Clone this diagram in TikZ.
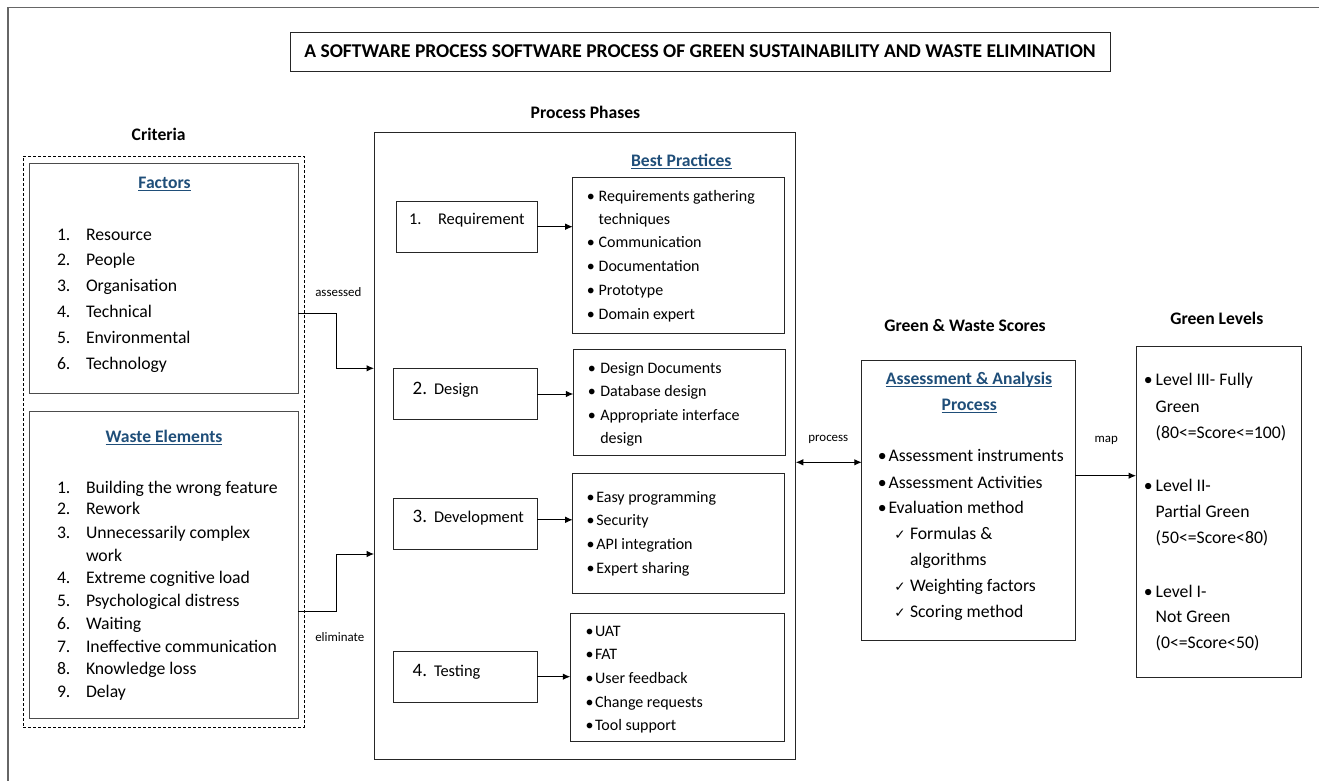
\documentclass[tikz,border=0pt]{standalone}
\usepackage{fontspec}
\setmainfont{Carlito}
\newfontfamily\dejavu{DejaVu Sans}
\usetikzlibrary{arrows.meta}
\definecolor{headblue}{RGB}{31,78,121}
\newcommand\fList{\fontsize{17.7}{20}\selectfont}
\newcommand\fBP{\fontsize{16}{18}\selectfont}
\newcommand\fPh{\fontsize{16.4}{18}\selectfont}
\newcommand\fHead{\fontsize{17.6}{20}\selectfont\bfseries}
\newcommand\fSmall{\fontsize{12.9}{14}\selectfont}
\newcommand\fTitle{\fontsize{19.5}{22}\selectfont\bfseries}
\newcommand\fNum{\fontsize{19}{20}\selectfont}
\newcommand\ulhead[1]{\setbox0\hbox{#1}\rlap{\color{headblue}\rule[-2.8pt]{\wd0}{1.3pt}}\box0}
\tikzset{
  box/.style={draw=black!85, line width=0.9pt, inner sep=0pt, outer sep=0pt},
  sbox/.style={draw=black!70, line width=1.3pt, inner sep=0pt, outer sep=0pt},
  t/.style={inner sep=0pt, outer sep=0pt, anchor=base west},
  tc/.style={inner sep=0pt, outer sep=0pt, anchor=base},
  arr/.style={-{Latex[length=7.5pt,width=6.5pt]}, line width=1pt},
  darr/.style={{Latex[length=7.5pt,width=6.5pt]}-{Latex[length=7.5pt,width=6.5pt]}, line width=1pt},
}
\begin{document}
\begin{tikzpicture}[x=1pt,y=-1pt]
\useasboundingbox (0,0) rectangle (1319,781);
% outer frame
\draw[black!60, line width=1.5pt] (8,781) -- (8,7.5) -- (1319,7.5);

% title
\node[box, minimum width=820pt, minimum height=39pt, font=\fTitle] (title) at (700,51.5)
  {A SOFTWARE PROCESS SOFTWARE PROCESS OF GREEN SUSTAINABILITY AND WASTE ELIMINATION};

% ---------------- Criteria
\node[tc, font=\fHead] (crit) at (158.7,140.5) {Criteria};
\node[draw=black, dash pattern=on 3pt off 2pt, line width=0.8pt, inner sep=0pt,
      minimum width=281pt, minimum height=571pt] (critbox) at (163.7,441.5) {};
\node[sbox, minimum width=268.6pt, minimum height=230pt] (fac) at (164,278.7) {};
\node[sbox, minimum width=268.6pt, minimum height=306.6pt] (waste) at (164,565) {};

\node[tc, font=\fHead, text=headblue] (factt) at (164.5,188) {\ulhead{Factors}};
\foreach \n/\s/\y in {1/Resource/235, 2/People/260, 3/Organisation/286,
                      4/Technical/312, 5/Environmental/338, 6/Technology/364}{
  \node[t, font=\fList] (fn\n) at (57,\y+5.8) {\n.};
  \node[t, font=\fList] (ft\n) at (86,\y+5.8) {\s};
}

\node[tc, font=\fHead, text=headblue] (wastet) at (164,442) {\ulhead{Waste Elements}};
\foreach \n/\s/\y in {1/Building the wrong feature/487.7, 2/Rework/509,
                      3/Unnecessarily complex/533, 4/Extreme cognitive load/578,
                      5/Psychological distress/601, 6/Waiting/624,
                      7/Ineffective communication/646.7, 8/Knowledge loss/669, 9/Delay/692}{
  \node[t, font=\fList] (wn\n) at (57,\y+5.8) {\n.};
  \node[t, font=\fList] (wt\n) at (86,\y+5.8) {\s};
}
\node[t, font=\fList] (wt3b) at (86,561.5) {work};

% ---------------- Process phases
\node[tc, font=\fHead] (pphead) at (585.5,118.5) {Process Phases};
\node[box, minimum width=421.7pt, minimum height=626.7pt] (proc) at (584.9,445.6) {};
\node[tc, font=\fHead, text=headblue] (bphead) at (681.3,166) {\ulhead{Best Practices}};

\node[box, minimum width=140.7pt, minimum height=50.7pt] (req) at (466.7,226.7) {};
\node[box, minimum width=143.7pt, minimum height=50.6pt] (des) at (465.2,394) {};
\node[box, minimum width=143.7pt, minimum height=50.3pt] (dev) at (465.2,523.8) {};
\node[box, minimum width=143.7pt, minimum height=50.7pt] (tst) at (465.2,676.7) {};

\node[t, font=\fPh] (reqn) at (409,224.3) {1.};
\node[t, font=\fPh] (reqt) at (438,224.3) {Requirement};
\node[t, font=\fNum] (desn) at (412.7,394.5) {2.};
\node[t, font=\fPh] (dest) at (434,394.5) {Design};
\node[t, font=\fNum] (devn) at (412.7,522.8) {3.};
\node[t, font=\fPh] (devt) at (434,522.8) {Development};
\node[t, font=\fNum] (tstn) at (412.7,676.5) {4.};
\node[t, font=\fPh] (tstt) at (434,676.5) {Testing};

\node[box, minimum width=211.6pt, minimum height=155.7pt] (bp1) at (678.5,255.2) {};
\node[box, minimum width=212.4pt, minimum height=105.3pt] (bp2) at (679.5,402.4) {};
\node[box, minimum width=211.6pt, minimum height=120pt] (bp3) at (678.5,533.3) {};
\node[box, minimum width=214pt, minimum height=128.7pt] (bp4) at (677.3,677.4) {};

% bullets BP1
\foreach \k/\s/\y in {1/Requirements gathering/195.7, 3/Communication/242.3,
                      4/Documentation/266, 5/Prototype/289.7, 6/Domain expert/313.7}{
  \node[t, font=\fBP] (b1d\k) at (586.8,\y+5.3) {•};
  \node[t, font=\fBP] (b1t\k) at (598.7,\y+5.3) {\s};
}
\node[t, font=\fBP] (b1t2) at (598.7,224.3) {techniques};
% BP2
\foreach \k/\s/\y in {1/Design Documents/367.7, 2/Database design/391, 3/Appropriate interface/415}{
  \node[t, font=\fBP] (b2d\k) at (587.8,\y+5.3) {•};
  \node[t, font=\fBP] (b2t\k) at (600.3,\y+5.3) {\s};
}
\node[t, font=\fBP] (b2t4) at (600.3,443.3) {design};
% BP3
\foreach \k/\s/\y in {1/Easy programming/496.7, 2/Security/520.3, 3/API integration/544, 4/Expert sharing/567.7}{
  \node[t, font=\fBP] (b3d\k) at (586.7,\y+5.3) {•};
  \node[t, font=\fBP] (b3t\k) at (596.3,\y+5.3) {\s};
}
% BP4
\foreach \k/\s/\y in {1/UAT/630.7, 2/FAT/653.7, 3/User feedback/677.7, 4/Change requests/702, 5/Tool support/725.3}{
  \node[t, font=\fBP] (b4d\k) at (585.7,\y+5.3) {•};
  \node[t, font=\fBP] (b4t\k) at (595,\y+5.3) {\s};
}

% phase -> best practice arrows
\draw[arr] (req.east) -- (req.east -| bp1.west);
\draw[arr] (des.east) -- (des.east -| bp2.west);
\coordinate (devo) at ([yshift=4pt]dev.east);
\draw[arr] (devo) -- (devo -| bp3.west);
\draw[arr] (tst.east) -- (tst.east -| bp4.west);

% criteria -> process arrows
\draw[arr] ([yshift=-35pt]fac.east) -- ++(38,0) |- ([yshift=77.3pt]proc.west);
\node[tc, font=\fSmall] (assessed) at (338.3,296) {assessed};
\draw[arr] ([yshift=-46.7pt]waste.east) -- ++(37.7,0) |- ([yshift=-108.4pt]proc.west);
\node[tc, font=\fSmall] (elim) at (339.8,641) {eliminate};

% ---------------- Scores
\node[tc, font=\fHead] (gwhead) at (965,331.8) {Green \& Waste Scores};
\node[box, minimum width=213.3pt, minimum height=280pt] (ass) at (968.4,500) {};
\node[tc, font=\fHead, text=headblue] (asst1) at (969,384) {\ulhead{Assessment \& Analysis}};
\node[tc, font=\fHead, text=headblue] (asst2) at (969.3,410) {\ulhead{Process}};
\foreach \k/\s/\y in {1/Assessment instruments/455.7, 2/Assessment Activities/482.3, 3/Evaluation method/507.7}{
  \node[t, font=\fList] (ad\k) at (877.8,\y+5.8) {•};
  \node[t, font=\fList] (at\k) at (888.5,\y+5.8) {\s};
}
\foreach \k/\s/\y in {1/Formulas \&/533.7, 3/Weighting factors/586, 4/Scoring method/612}{
  \node[t, font=\fontsize{13.5}{15}\selectfont\dejavu] (ac\k) at (894.3,\y+5.5) {✓};
  \node[t, font=\fList] (act\k) at (910,\y+5.8) {\s};
}
\node[t, font=\fList] (act2) at (910,565.8) {algorithms};

\coordinate (pp) at ([yshift=-16.7pt]proc.east);
\draw[darr] (pp) -- (pp -| ass.west);
\node[tc, font=\fSmall] (proclbl) at (828.3,441) {process};

% ---------------- Levels
\node[tc, font=\fHead] (glhead) at (1216.8,324.5) {Green Levels};
\node[box, minimum width=165pt, minimum height=331pt] (lev) at (1218.5,512.2) {};
\foreach \k/\y in {1/380, 4/485.7, 7/591.7}{
  \node[t, font=\fList] (ld\k) at (1143.8,\y+5.8) {•};
}
\foreach \k/\s/\y in {1/Level III- Fully/380, 2/Green/406.7, 3/(80<=Score<=100)/433,
                      4/Level II-/485.7, 5/Partial Green/511.7, 6/(50<=Score<80)/537.7,
                      7/Level I-/591.7, 8/Not Green/616.7, 9/(0<=Score<50)/642.7}{
  \node[t, font=\fList] (lt\k) at (1155.7,\y+5.8) {\s};
}

\coordinate (mm) at ([yshift=24.3pt]ass.east);
\draw[arr] (mm) -- (mm -| lev.west);
\node[tc, font=\fSmall] (maplbl) at (1106.3,442.3) {map};
\end{tikzpicture}
\end{document}
